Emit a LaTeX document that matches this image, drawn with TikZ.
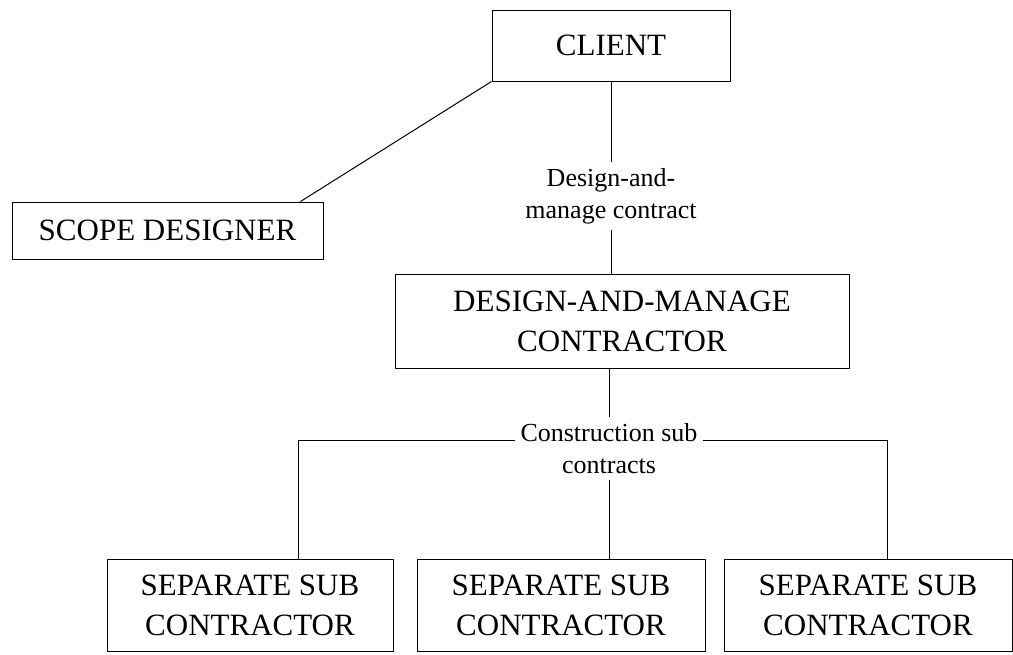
\documentclass[tikz,border=0pt]{standalone}
\usepackage{fontspec}
\setmainfont{Liberation Serif}
\usetikzlibrary{calc}
\begin{document}
\begin{tikzpicture}[x=1pt,y=-1pt,
  box/.style={draw,line width=1pt,align=center,inner sep=0pt,
              font=\fontsize{31}{40}\selectfont},
  lbl/.style={align=center,inner sep=6pt,
              font=\fontsize{26}{32}\selectfont},
  wire/.style={line width=1pt}]
\useasboundingbox (0,0) rectangle (1013,654);
\fill[white] (0,0) rectangle (1013,654);

% parties
\node[box,minimum width=238pt,minimum height=71pt] (client) at (611,45.5) {CLIENT};
\node[box,minimum width=311pt,minimum height=57pt] (scope) at (167.5,230.5) {SCOPE DESIGNER};
\node[box,minimum width=454pt,minimum height=94pt] (dm) at (622,321)
  {DESIGN-AND-MANAGE\\CONTRACTOR};
\node[box,minimum width=286pt,minimum height=92pt] (sub1) at (250,605)
  {SEPARATE SUB\\CONTRACTOR};
\node[box,minimum width=288pt,minimum height=92pt] (sub2) at (561,605)
  {SEPARATE SUB\\CONTRACTOR};
\node[box,minimum width=288pt,minimum height=92pt] (sub3) at (868,605)
  {SEPARATE SUB\\CONTRACTOR};

% client to scope designer
\coordinate (sd) at ([xshift=-23pt]scope.north east);
\draw[wire] (client.south west) -- (sd);

% main contract
\node[lbl] (dmc) at (611,196) {Design-and-\\manage contract};
\draw[wire] (client.south -| dmc) -- (dmc.north);
\draw[wire] (dmc.south) -- (dmc.south |- dm.north);

% sub contracts
\coordinate (jl) at (298,440);
\coordinate (jr) at (887,440);
\draw[wire] (sub1.north -| jl) -- (jl) -- (jr) -- (sub3.north -| jr);
\node[lbl,fill=white] (cs) at (609,448.5) {Construction sub\\contracts};
\draw[wire] (dm.south -| cs) -- (cs.north);
\draw[wire] (cs.south) -- (cs.south |- sub2.north);
\end{tikzpicture}
\end{document}
